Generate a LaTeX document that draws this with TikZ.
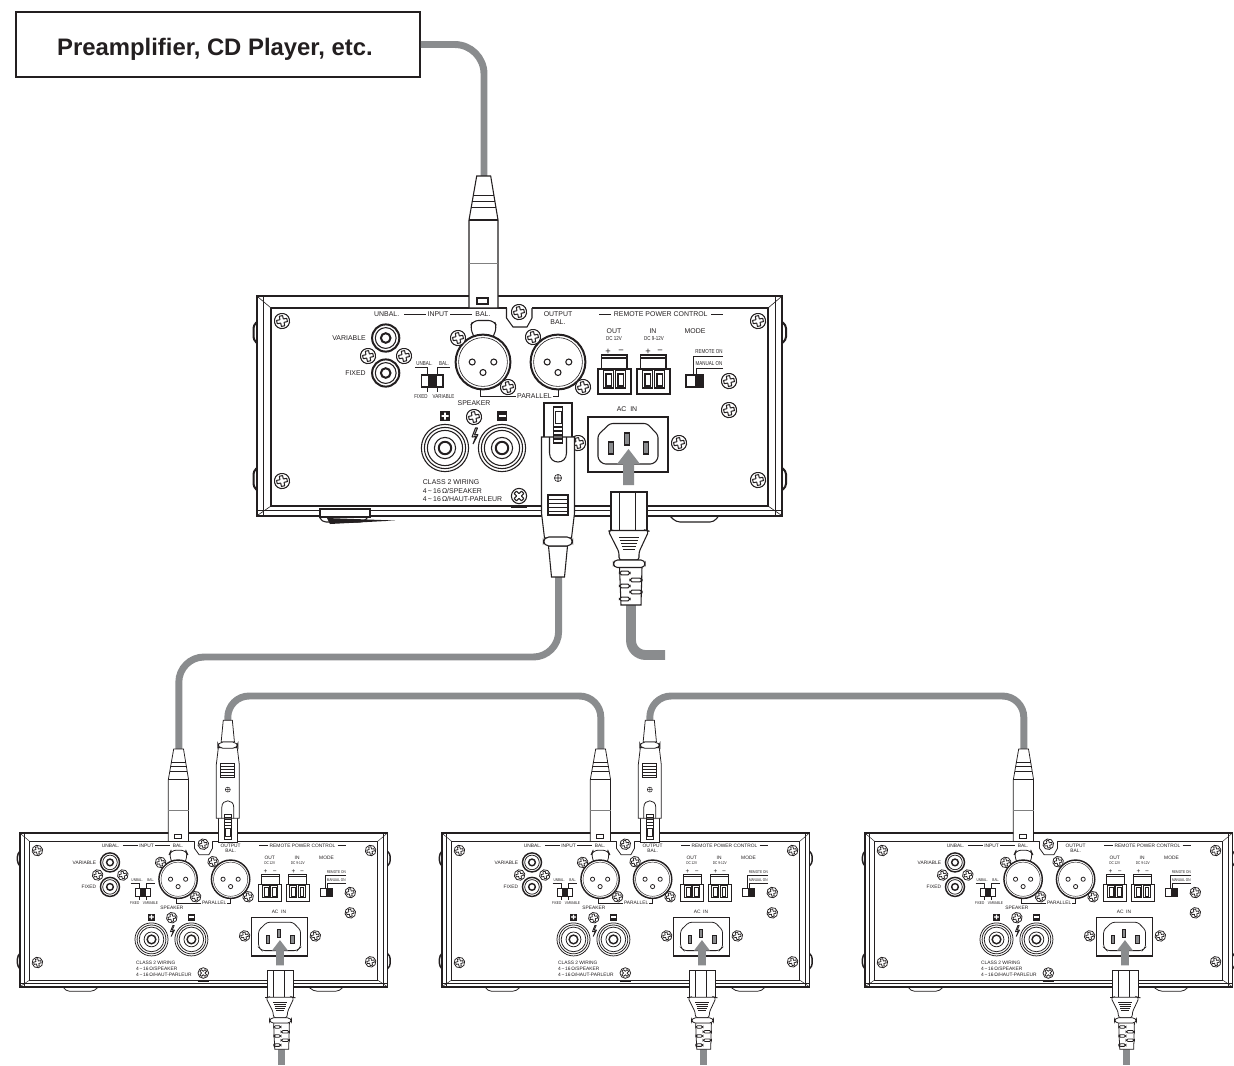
\documentclass[tikz,border=0pt]{standalone}
\usepackage{fontspec}
\setmainfont{Liberation Sans}
\definecolor{ink}{HTML}{231F20}
\definecolor{cablegray}{HTML}{8A8C8E}
\def\ks{1}
\tikzset{
  lthin/.style={draw=ink,line width=\ks*0.45pt},
  lmid/.style={draw=ink,line width=\ks*0.8pt},
  lfat/.style={draw=ink,line width=\ks*1.5pt},
  paper/.style={fill=white},
  lab/.style={inner sep=0pt,transform shape,text=ink,font=\fontsize{5.2}{6}\selectfont},
  tiny/.style={inner sep=0pt,transform shape,text=ink,xscale=0.78,font=\fontsize{4.3}{5}\selectfont},
  signlab/.style={inner sep=0pt,transform shape,text=ink,font=\fontsize{7}{7}\selectfont},
  cable/.style={draw=cablegray,line width=5.2pt},
  powercable/.style={draw=cablegray,line width=7.4pt},
  smallpower/.style={draw=cablegray,line width=5.2pt},
}
% screw: [rotation]{x}{y}
\newcommand\screw[3][12]{%
  \begin{scope}[shift={(#2,#3)},rotate=#1]
    \draw[lmid,paper] (0,0) circle[radius=7.6];
    \draw[lthin,line width=\ks*0.75pt,line join=round] (-1.7,-5.2)--(1.7,-5.2)--(1.7,-1.7)--(5.2,-1.7)--(5.2,1.7)--(1.7,1.7)--(1.7,5.2)--(-1.7,5.2)--(-1.7,1.7)--(-5.2,1.7)--(-5.2,-1.7)--(-1.7,-1.7)--cycle;
  \end{scope}}
\newcommand\rcajack[2]{%
  \draw[lfat,paper] (#1,#2) circle[radius=13.6];
  \draw[lmid] (#1,#2) circle[radius=10.4];
  \draw[lfat] (#1,#2) circle[radius=4.8];}
\newcommand\spkpost[2]{%
  \draw[lmid,paper] (#1,#2) circle[radius=23.6];
  \draw[lmid] (#1,#2) circle[radius=20.6];
  \draw[lmid] (#1,#2) circle[radius=17.6];
  \draw[lmid] (#1,#2) circle[radius=10.6];
  \draw[lfat] (#1,#2) circle[radius=6.2];}
\newcommand\xlrjack[2]{%
  \draw[lfat,paper] (#1,#2) circle[radius=27.4];
  \draw[lthin] (#1,#2) circle[radius=24.4];
  \draw[lmid] (#1-10.8,#2) circle[radius=3];
  \draw[lmid] (#1+10.8,#2) circle[radius=3];
  \draw[lmid] (#1,#2+10.5) circle[radius=3];}
\newcommand\termblock[1]{%
  \draw[lmid,paper] (#1+3.5,355) rectangle (#1+29,369);
  \draw[lmid,paper] (#1,369) rectangle (#1+33,394);
  \draw[lmid] (#1+3.5,358) -- (#1+29,358);
  \draw[lmid] (#1+5.5,370.5) rectangle (#1+15.5,388);
  \draw[lmid] (#1+17.5,370.5) rectangle (#1+27.5,388);
  \draw[lmid] (#1+8,374) rectangle (#1+13.5,386);
  \draw[lmid] (#1+20,374) rectangle (#1+25.5,386);}
% the amplifier rear panel, in the coordinates of the large one
\newcommand\amppanel[1]{%
  % side bumps
  \foreach \yy/\yz in {322/343,468/490}{
    \draw[lfat,paper,rounded corners=2.5] (257,\yy)--(253.5,\yy+3)--(253.5,\yz-3)--(257,\yz);
    \draw[lfat,paper,rounded corners=2.5] (782,\yy)--(786,\yy+3)--(786,\yz-3)--(782,\yz);
  }
  % bottom tabs
  \draw[lmid,paper,rounded corners=3] (318,514)--(322,522)--(364,522)--(370,514);
  \draw[lmid,paper,rounded corners=3] (668,514)--(676,522)--(714,522)--(720,514);
  % body
  \draw[lfat,paper] (257,296) rectangle (782,516);
  \draw[lmid] (271,308) -- (506.5,308);
  \draw[lmid] (532,308) -- (768,308) -- (768,506) -- (271,506) -- (271,308);
  \draw[lthin] (263,297) -- (263,515);
  \draw[lthin] (775.5,297) -- (775.5,515);
  \draw[lmid] (258,510.5) -- (781,510.5);
  \draw[lthin] (258,297) -- (271,308);
  \draw[lthin] (781,297) -- (768,308);
  \draw[lthin] (258,515) -- (271,506);
  \draw[lthin] (781,515) -- (768,506);
  % notch
  \draw[lmid,paper] (506.5,308) -- (506.5,318) -- (513,327) -- (527,327) -- (532,318) -- (532,308);
  \screw{519}{312}
  % frame screws
  \screw{282}{321}\screw{282}{481}\screw{758}{321}\screw{758}{480}
  % input section labels
  \node[lab] (#1unbal) at (386.7,314) {UNBAL.};
  \node[lab] (#1input) at (438,314) {INPUT};
  \node[lab] (#1bal) at (483,314) {BAL.};
  \draw[lthin] (404,314) -- (426,314) (450,314) -- (472,314);
  \node[lab,anchor=east] (#1variable) at (366,338) {VARIABLE};
  \node[lab,anchor=east] (#1fixed) at (366,373) {FIXED};
  \rcajack{385.7}{338}\rcajack{385.7}{373}
  \screw{368}{356}\screw{404}{356}
  % input selector
  \node[tiny] (#1sunbal) at (424.5,363.5) {UNBAL.};
  \node[tiny] (#1sbal) at (444,363.5) {BAL.};
  \node[tiny] (#1sfixed) at (421,396.5) {FIXED};
  \node[tiny] (#1svar) at (443.5,396.5) {VARIABLE};
  \draw[lthin] (415,367) -- (427,367) -- (427,375);
  \draw[lthin] (437,375) -- (437,367) -- (450,367);
  \draw[lthin] (427,387) -- (427,392) (437,387) -- (437,392);
  \draw[lmid,paper] (421.7,375) rectangle (443,387);
  \fill[ink] (428,375) rectangle (437,386);
  % XLR input
  \draw[lmid,paper,rounded corners=4] (474,337) -- (470,327) -- (473,320.5) -- (494,320.5) -- (497,327) -- (493,337);
  \xlrjack{483}{362}
  \screw{458}{338}\screw{508}{387}
  % output
  \node[lab] (#1out) at (558,314) {OUTPUT};
  \node[lab] (#1outbal) at (558,322) {BAL.};
  \xlrjack{558}{362}
  \screw{533}{337}\screw{583}{387}
  \draw[lthin] (480,389) -- (480,396) -- (516,396);
  \node[lab] (#1parallel) at (534.5,396) {PARALLEL};
  \draw[lthin] (553,396) -- (558,396) -- (558,390);
  % speaker
  \node[lab] (#1speaker) at (474,403) {SPEAKER};
  \screw{474}{417}
  \fill[ink] (440,411) rectangle (450,421);
  \fill[white] (441.5,415.2) rectangle (448.5,416.8) (444.2,412.5) rectangle (445.8,419.5);
  \fill[ink] (497,411) rectangle (507,421);
  \fill[white] (498.5,415.2) rectangle (505.5,416.8);
  \spkpost{445}{448}\spkpost{502}{448}
  \draw[lmid,line join=bevel,fill=white] (475.5,428) -- (472,437) -- (476,436.5) -- (473,444) -- (478,434.5) -- (474.5,435) -- (477.5,428) -- cycle;
  \node[lab,anchor=west] (#1classa) at (422.7,482) {CLASS 2 WIRING};
  \node[lab,anchor=west] (#1classb) at (422.7,490.6) {4\,\textasciitilde\,16\,Ω/SPEAKER};
  \node[lab,anchor=west] (#1classc) at (422.7,499) {4\,\textasciitilde\,16\,Ω/HAUT-PARLEUR};
  \screw[45]{519}{496}
  \draw[lthin] (511,507) -- (527,507);
  % remote power control
  \node[lab] (#1remote) at (660.7,314) {REMOTE POWER CONTROL};
  \draw[lthin] (599,314) -- (611,314) (711,314) -- (723,314);
  \node[lab] (#1rout) at (614,331) {OUT};
  \node[tiny] (#1routv) at (614,339) {DC 12V};
  \node[lab] (#1rin) at (653,331) {IN};
  \node[tiny] (#1rinv) at (654,339) {DC 9-12V};
  \node[lab] (#1mode) at (695,331) {MODE};
  \node[signlab] (#1pa) at (608,351.5) {+};
  \node[signlab] (#1ma) at (621,351.5) {−};
  \node[signlab] (#1pb) at (648,351.5) {+};
  \node[signlab] (#1mb) at (660,351.5) {−};
  \termblock{598}\termblock{637}
  \node[tiny] (#1ron) at (709,352) {REMOTE ON};
  \node[tiny] (#1mon) at (709,364) {MANUAL ON};
  \draw[lthin] (723,356) -- (693,356) -- (693,375);
  \draw[lthin] (723,368) -- (696,368) -- (696,375);
  \draw[lmid,paper] (686,375) rectangle (703,387);
  \fill[ink] (694.5,375) rectangle (703,386);
  \screw{729}{381}\screw{729}{410}
  % AC inlet
  \node[lab] (#1acin) at (627,409) {AC\ \ IN};
  \draw[lfat,paper] (588,417) rectangle (668,472);
  \draw[lmid,rounded corners=2] (598,435) -- (610,423.5) -- (647,423.5) -- (658,435) -- (658,459) -- (653,464) -- (603,464) -- (598,459) -- cycle;
  \foreach \px/\py in {627/439,611/448,646/448}{
    \draw[lmid,fill=cablegray] (\px-2.5,\py-6) rectangle (\px+2.5,\py+6);
  }
  \screw{578}{443}\screw{679}{443}
  \fill[cablegray] (628.5,449) -- (640,464) -- (634,464) -- (634,485) -- (623,485) -- (623,464) -- (617,464) -- cycle;
}
% power connector, same coordinates
\newcommand\powerplug{%
  \draw[lmid,paper] (611,492) rectangle (647,531);
  \draw[lthin] (619.5,492) -- (619.5,531) (635,492) -- (635,531);
  \draw[lmid,paper,rounded corners=2] (611,530.5) -- (608.3,531) -- (619,552) -- (619,560) -- (639,560) -- (639,552) -- (648.8,531) -- (647,530.5) -- cycle;
  \foreach \yy/\hw in {537/10,540/9,543/8,546/7,549/6}{\draw[lthin] (628.8-\hw,\yy) -- (628.8+\hw,\yy);}
  \draw[lmid,paper] (619.5,567) -- (621,605) -- (641,605) -- (642,567) -- cycle;
  \draw[lmid,paper,rounded corners=3] (613.5,560) rectangle (645,567.5);
  \foreach \yy in {573,586,599}{\draw[lmid,paper,rounded corners=1.4] (619.5,\yy-1.8) rectangle (630,\yy+1.8);}
  \foreach \yy in {580,592}{\draw[lmid,paper,rounded corners=1.4] (630,\yy-1.8) rectangle (642,\yy+1.8);}
}
% male XLR plug seated in the BAL input
\newcommand\maleplug{%
  \draw[lmid,paper] (476.7,176) -- (490.7,176) -- (498,220) -- (498,308) -- (469,308) -- (469,220) -- cycle;
  \draw[lthin] (473.4,195) -- (494,195) (472.3,201) -- (495.1,201) (471.3,207) -- (496.1,207);
  \draw[lmid] (469,220) -- (498,220);
  \draw[lthin,draw=gray] (469,263) -- (498,263);
  \draw[lmid] (477,298) rectangle (488,304);
}
% female XLR plug, origin on the panel end of the tongue
\newcommand\femaleplug{%
  \draw[lmid,paper] (-14,0) rectangle (14,36);
  \draw[lmid,paper] (-9.5,143) -- (-6.5,174) -- (6.5,174) -- (9.5,143) -- cycle;
  \draw[lmid,paper] (-16.5,34) -- (16.5,34) -- (16.5,110) -- (13.5,135) -- (-13.5,135) -- (-16.5,110) -- cycle;
  \draw[lmid,paper,rounded corners=4] (-14.5,134) rectangle (14.5,143);
  \draw[lmid] (-4.5,4) rectangle (4.5,40);
  \draw[lthin] (-3.2,8) rectangle (3.2,20);
  \draw[lmid] (-4.5,24) -- (4.5,24) (-4.5,28) -- (4.5,28) (-4.5,32) -- (4.5,32) (-4.5,36) -- (4.5,36);
  \draw[lmid] (-8.5,34) -- (-8.5,50) .. controls (-8.5,62) and (8.5,62) .. (8.5,50) -- (8.5,34);
  \draw[lthin] (0,75) circle[radius=3.6] (-3.6,75) -- (3.6,75) (0,71.4) -- (0,78.6);
  \draw[lmid] (-10,92) rectangle (10,112);
  \foreach \yy in {96,100,104,108}{\draw[lthin] (-10,\yy) -- (10,\yy);}
}
\begin{document}
\begin{tikzpicture}[x=0.75pt,y=-0.75pt]
\useasboundingbox (0,0) rectangle (1234,1065);
% free ends and plug tips
\coordinate (tipBigIn) at (484,176);
\coordinate (tipBigOut) at (558.6,577);
\coordinate (tipOneIn) at (178.8,750);
\coordinate (tipOneOut) at (227.8,721);
\coordinate (tipTwoIn) at (600.8,750);
\coordinate (tipTwoOut) at (649.8,721);
\coordinate (tipThreeIn) at (1023.8,750);
\coordinate (powerBig) at (631,604);
\coordinate (powerBigEnd) at (665,655);
\coordinate (powerOne) at (281.7,1000);
\coordinate (powerOneEnd) at (281.7,1065);
\coordinate (powerTwo) at (703.7,1000);
\coordinate (powerTwoEnd) at (703.7,1065);
\coordinate (powerThree) at (1126.7,1000);
\coordinate (powerThreeEnd) at (1126.7,1065);
% source box
\node[draw=ink,line width=1.5pt,minimum width=403.5*0.75pt,minimum height=65*0.75pt,inner sep=0pt] (preamp) at (218,44.5) {};
\node[inner sep=0pt,text=ink,font=\fontsize{17.9}{20}\selectfont\bfseries] (preamplabel) at (215,49.5) {Preamplifier, CD Player, etc.};
% cables
\draw[cable,rounded corners=22] (preamp.east) -| (tipBigIn);
\draw[cable,rounded corners=19] (tipBigOut) -- (tipBigOut |- 0,657) -- (tipOneIn |- 0,657) -- (tipOneIn);
\draw[cable,rounded corners=16] (tipOneOut) -- (tipOneOut |- 0,696) -- (tipTwoIn |- 0,696) -- (tipTwoIn);
\draw[cable,rounded corners=16] (tipTwoOut) -- (tipTwoOut |- 0,696) -- (tipThreeIn |- 0,696) -- (tipThreeIn);
\draw[powercable,rounded corners=11] (powerBig) |- (powerBigEnd);
\draw[smallpower] (powerOne) -- (powerOneEnd);
\draw[smallpower] (powerTwo) -- (powerTwoEnd);
\draw[smallpower] (powerThree) -- (powerThreeEnd);
% large unit
\amppanel{big}
\draw[lmid,paper] (320,509) rectangle (370,517);
\fill[ink] (327,518) -- (395,520.5) -- (330,524) -- cycle;
\maleplug
\powerplug
\begin{scope}[shift={(558,403)}]\femaleplug\end{scope}
% small units
\def\ks{0.72}
\foreach \nm/\dx in {a/-160,b/262,c/685}{
  \begin{scope}[shift={(\dx,625.8)},scale=0.7]
    \amppanel{\nm}
    \maleplug
    \powerplug
  \end{scope}
}
\foreach \dx in {-160,262}{
  \begin{scope}[shift={(\dx,625.8)},scale=0.7]
    \begin{scope}[shift={(554,309)},yscale=-1]\femaleplug\end{scope}
  \end{scope}
}
\end{tikzpicture}
\end{document}
